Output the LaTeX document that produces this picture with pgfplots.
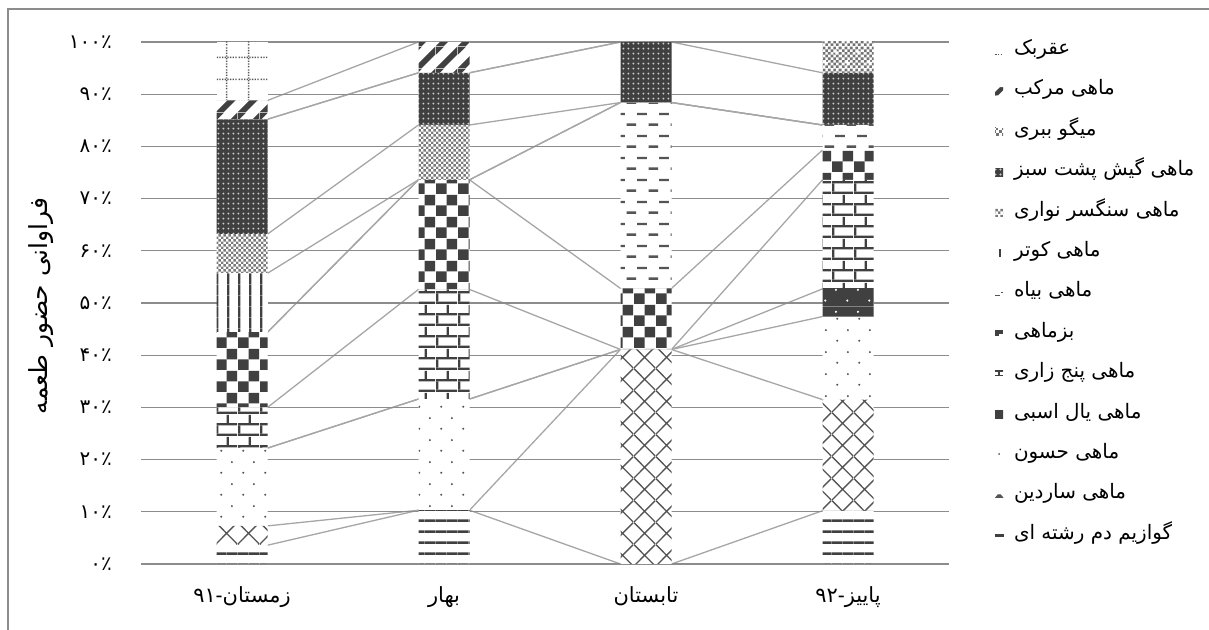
\documentclass[border=0pt]{standalone}
\usepackage{fontspec}
\setmainfont{Liberation Sans}
\newfontfamily\arabicfont[Script=Arabic]{DejaVu Sans}
\usepackage{pgfplots}
\usepackage{pgfplotstable}
\pgfplotsset{compat=1.18}
\usetikzlibrary{patterns.meta}
\TeXXeTstate=1
\definecolor{pdark}{HTML}{404040}
\definecolor{pmid}{HTML}{555555}
\definecolor{pfine}{HTML}{7A7A7A}
\definecolor{gridc}{HTML}{8C8C8C}
\definecolor{serc}{HTML}{A6A6A6}

% ---------- patterns (1bp = 1px) ----------
\tikzdeclarepattern{name=pHL, type=uncolored, bottom left={(0bp,0bp)}, top right={(10.8bp,10.8bp)}, tile size={(10.8bp,10.8bp)},
  code={\tikzset{x=1bp,y=1bp}\fill (0,0) rectangle (10.8,2.7);}}
\tikzdeclarepattern{name=pCross, type=uncolored, bottom left={(0bp,0bp)}, top right={(21.6bp,21.6bp)}, tile size={(21.6bp,21.6bp)},
  code={\tikzset{x=1bp,y=1bp}\draw[line width=1.4bp] (0,0)--(21.6,21.6) (0,21.6)--(21.6,0);}}
\tikzdeclarepattern{name=pDots, type=uncolored, bottom left={(0bp,0bp)}, top right={(21.6bp,21.6bp)}, tile size={(21.6bp,21.6bp)},
  code={\tikzset{x=1bp,y=1bp}\fill (5.4,5.4) circle (1.15); \fill (16.2,16.2) circle (1.15);}}
\tikzdeclarepattern{name=pMane, type=colored, bottom left={(0bp,0bp)}, top right={(21.6bp,21.6bp)}, tile size={(21.6bp,21.6bp)},
  code={\tikzset{x=1bp,y=1bp}\fill[pdark] (0,0) rectangle (21.6,21.6); \fill[white] (5.4,5.4) circle (1.2); \fill[white] (16.2,16.2) circle (1.2);}}
\tikzdeclarepattern{name=pBrick, type=uncolored, bottom left={(0bp,0bp)}, top right={(21.6bp,21.6bp)}, tile size={(21.6bp,21.6bp)},
  code={\tikzset{x=1bp,y=1bp}\fill (0,0) rectangle (21.6,2.4); \fill (0,10.8) rectangle (21.6,13.2); \fill (0,2.4) rectangle (2.4,10.8); \fill (10.8,13.2) rectangle (13.2,21.6);}}
\tikzdeclarepattern{name=pCheck, type=uncolored, bottom left={(0bp,0bp)}, top right={(21.6bp,21.6bp)}, tile size={(21.6bp,21.6bp)},
  code={\tikzset{x=1bp,y=1bp}\fill (0,0) rectangle (10.8,10.8); \fill (10.8,10.8) rectangle (21.6,21.6);}}
\tikzdeclarepattern{name=pDash, type=uncolored, bottom left={(0bp,0bp)}, top right={(21.6bp,21.6bp)}, tile size={(21.6bp,21.6bp)},
  code={\tikzset{x=1bp,y=1bp}\fill (0.6,4.2) rectangle (10.4,6.6); \fill (11.4,15.0) rectangle (21.2,17.4);}}
\tikzdeclarepattern{name=pVL, type=uncolored, bottom left={(0bp,0bp)}, top right={(10.8bp,10.8bp)}, tile size={(10.8bp,10.8bp)},
  code={\tikzset{x=1bp,y=1bp}\fill (0,0) rectangle (2.4,10.8);}}
\tikzdeclarepattern{name=pFine, type=uncolored, bottom left={(0bp,0bp)}, top right={(5.4bp,5.4bp)}, tile size={(5.4bp,5.4bp)},
  code={\tikzset{x=1bp,y=1bp}\fill (0,0) rectangle (2.7,2.7); \fill (2.7,2.7) rectangle (5.4,5.4);}}
\tikzdeclarepattern{name=pGish, type=colored, bottom left={(0bp,0bp)}, top right={(5.4bp,5.4bp)}, tile size={(5.4bp,5.4bp)},
  code={\tikzset{x=1bp,y=1bp}\fill[pdark] (0,0) rectangle (5.4,5.4); \fill[black!20] (2.7,2.7) circle (1.15);}}
\tikzdeclarepattern{name=pShrimp, type=colored, bottom left={(0bp,0bp)}, top right={(21.6bp,21.6bp)}, tile size={(21.6bp,21.6bp)},
  code={\tikzset{x=1bp,y=1bp}\fill[white] (0,0) rectangle (21.6,21.6);
    \foreach \i in {0,5.4,10.8,16.2}{\foreach \j in {0,5.4,10.8,16.2}{\fill[black!55] (\i,\j) rectangle +(2.7,2.7); \fill[black!55] (\i+2.7,\j+2.7) rectangle +(2.7,2.7);}}
    \fill[white] (4.7,2.7) rectangle (6.1,8.1); \fill[white] (2.7,4.7) rectangle (8.1,6.1);
    \fill[white] (15.5,13.5) rectangle (16.9,18.9); \fill[white] (13.5,15.5) rectangle (18.9,16.9);}}
\tikzdeclarepattern{name=pSquid, type=uncolored, bottom left={(0bp,0bp)}, top right={(21.6bp,21.6bp)}, tile size={(21.6bp,21.6bp)},
  code={\tikzset{x=1bp,y=1bp}\fill (0,0) -- (8.1,0) -- (21.6,13.5) -- (21.6,21.6) -- cycle; \fill (0,13.5) -- (8.1,21.6) -- (0,21.6) -- cycle;}}
\tikzdeclarepattern{name=pScorp, type=uncolored, bottom left={(0bp,0bp)}, top right={(21.6bp,21.6bp)}, tile size={(21.6bp,21.6bp)},
  code={\tikzset{x=1bp,y=1bp}\foreach \i in {0,2.7,5.4,8.1,10.8,13.5,16.2,18.9}{\fill (\i+0.7,10.1) rectangle +(1.35,1.35); \fill (10.1,\i+0.7) rectangle +(1.35,1.35);}}}

% ---------- data ----------
\pgfplotstableread{
x   s1   s2   s3   s4  s5   s6   s7   s8   s9   s10  s11 s12 s13
0   3.6  3.7  14.9 0   7.8  14.4 0    11.3 7.5  22.0 0   3.6 11.2
1   10.3 0    21.3 0   21.0 21.0 0    0    10.5 10.0 0   5.9 0
2   0    41.1 0    0   0    11.7 35.6 0    0    11.6 0   0   0
3   10.2 21.3 15.9 5.3 20.9 5.7  4.8  0    0    10.0 5.9 0   0
}\barsdata

% cumulative tops of each series, at the bar edges (for the series lines)
\pgfplotstableread{
x      c1   c2   c3   c4   c5   c6   c7   c8   c9   c10   c11   c12
0.1264 3.6  7.3  22.2 22.2 30.0 44.4 44.4 55.7 63.2 85.2  85.2  88.8
0.8736 10.3 10.3 31.6 31.6 52.6 73.6 73.6 73.6 84.1 94.1  94.1  100
1.1264 10.3 10.3 31.6 31.6 52.6 73.6 73.6 73.6 84.1 94.1  94.1  100
1.8736 0    41.1 41.1 41.1 41.1 52.8 88.4 88.4 88.4 100   100   100
2.1264 0    41.1 41.1 41.1 41.1 52.8 88.4 88.4 88.4 100   100   100
2.8736 10.2 31.5 47.4 52.7 73.6 79.3 84.1 84.1 84.1 94.1  100   100
}\topsdata

\begin{document}
\begin{tikzpicture}
\useasboundingbox (0,0) rectangle (1209bp,630bp);
\draw[gridc, line width=1.5bp] (8bp,-20bp) -- (8bp,621bp) -- (1230bp,621bp);
\coordinate (A) at (141bp,66bp);

\begin{axis}[at={(A)}, anchor=south west, scale only axis, width=808bp, height=522bp,
  xmin=-0.5, xmax=3.5, ymin=0, ymax=100,
  axis line style={draw=none}, major tick length=0pt,
  axis on top,
  ytick={0,10,...,100},
  yticklabels={۰٪,۱۰٪,۲۰٪,۳۰٪,۴۰٪,۵۰٪,۶۰٪,۷۰٪,۸۰٪,۹۰٪,۱۰۰٪},
  yticklabel style={font=\arabicfont\fontsize{20}{22}\selectfont, anchor=east, inner sep=0pt, xshift=-29bp},
  xtick={0,1,2,3},
  xticklabels={{\hbox{۹۱}\hbox{\rmfamily -}\hbox{زمستان}},بهار,تابستان,{\hbox{۹۲}\hbox{\rmfamily -}\hbox{پاییز}}},
  xticklabel style={font=\arabicfont\fontsize{21}{24}\selectfont, anchor=north, inner sep=0pt, yshift=-22bp},
  ymajorgrids, grid style={gridc, line width=1.3bp},
  clip=false]
\foreach \c in {c1,c2,c3,c4,c5,c6,c7,c8,c9,c10,c11,c12}{
  \addplot[serc, line width=1.3bp, mark=none] table[x=x, y=\c] {\topsdata};
}
\end{axis}

\begin{axis}[at={(A)}, anchor=south west, scale only axis, width=808bp, height=522bp,
  xmin=-0.5, xmax=3.5, ymin=0, ymax=100, hide axis,
  ybar stacked, bar width=51bp,
  legend image code/.code={\path[#1] (0bp,-4bp) rectangle (8bp,4bp);},
  reverse legend, legend cell align=left,
  legend style={draw=none, fill=none, at={(1,1)}, anchor=north west, xshift=46bp, yshift=-1.5bp,
    inner sep=0pt, outer sep=0pt, row sep=25.4bp,
    font=\arabicfont\fontsize{20}{22}\selectfont,
    nodes={inner sep=0pt, text height=11bp, text depth=4bp},
    /tikz/every odd column/.style={column sep=10bp}}]
\addplot[fill=white, draw=none, postaction={pattern=pHL, pattern color=pdark},
  legend image code/.code={\fill[pdark] (0bp,-1.4bp) rectangle (9bp,1.4bp);}] table[x=x, y=s1] {\barsdata};
\addlegendentry{\beginR گوازیم دم رشته ای\endR}
\addplot[fill=white, draw=none, postaction={pattern=pCross, pattern color=pmid},
  legend image code/.code={\draw[pmid, line width=1bp] (0.5bp,-2.5bp) -- (3bp,0.5bp) -- (5.5bp,0.5bp) -- (8bp,-2.5bp);}] table[x=x, y=s2] {\barsdata};
\addlegendentry{\beginR ماهی ساردین\endR}
\addplot[fill=white, draw=none, postaction={pattern=pDots, pattern color=pmid},
  legend image code/.code={\fill[pmid] (4bp,1bp) circle (1bp);}] table[x=x, y=s3] {\barsdata};
\addlegendentry{\beginR ماهی حسون\endR}
\addplot[fill=white, draw=none, postaction={pattern=pMane},
  legend image code/.code={\fill[pdark] (0bp,-4bp) rectangle (8bp,4bp);}] table[x=x, y=s4] {\barsdata};
\addlegendentry{\beginR ماهی یال اسبی\endR}
\addplot[fill=white, draw=none, postaction={pattern=pBrick, pattern color=pdark},
  legend image code/.code={\fill[pdark] (0bp,2.6bp) rectangle (8bp,3.8bp); \fill[pdark] (0bp,-2bp) rectangle (8bp,-0.8bp); \fill[pdark] (3.4bp,-0.8bp) rectangle (4.6bp,2.6bp);}] table[x=x, y=s5] {\barsdata};
\addlegendentry{\beginR ماهی پنج زاری\endR}
\addplot[fill=white, draw=none, postaction={pattern=pCheck, pattern color=pdark},
  legend image code/.code={\fill[pdark] (0bp,0bp) rectangle (8bp,4bp); \fill[pdark] (0bp,-2bp) rectangle (3.5bp,0bp);}] table[x=x, y=s6] {\barsdata};
\addlegendentry{\beginR بزماهی\endR}
\addplot[fill=white, draw=none, postaction={pattern=pDash, pattern color=pmid},
  legend image code/.code={\fill[pmid] (0bp,-3bp) rectangle (4.5bp,-1.8bp); \fill[pmid] (5.5bp,0bp) rectangle (8bp,1.2bp);}] table[x=x, y=s7] {\barsdata};
\addlegendentry{\beginR ماهی بیاه\endR}
\addplot[fill=white, draw=none, postaction={pattern=pVL, pattern color=pdark},
  legend image code/.code={\fill[pdark] (4bp,-3.5bp) rectangle (6bp,3.5bp);}] table[x=x, y=s8] {\barsdata};
\addlegendentry{\beginR ماهی کوتر\endR}
\addplot[fill=white, draw=none, postaction={pattern=pFine, pattern color=pfine}] table[x=x, y=s9] {\barsdata};
\addlegendentry{\beginR ماهی سنگسر نواری\endR}
\addplot[fill=white, draw=none, postaction={pattern=pGish}] table[x=x, y=s10] {\barsdata};
\addlegendentry{\beginR ماهی گیش پشت سبز\endR}
\addplot[fill=white, draw=none, postaction={pattern=pShrimp}] table[x=x, y=s11] {\barsdata};
\addlegendentry{\beginR میگو ببری\endR}
\addplot[fill=white, draw=none, postaction={pattern=pSquid, pattern color=pdark},
  legend image code/.code={\fill[pdark] (0bp,-4bp) -- (3bp,-4bp) -- (8bp,1bp) -- (8bp,4bp) -- (5bp,4bp) -- (0bp,-1bp) -- cycle;}] table[x=x, y=s12] {\barsdata};
\addlegendentry{\beginR ماهی مرکب\endR}
\addplot[fill=white, draw=none, postaction={pattern=pScorp, pattern color=pmid},
  legend image code/.code={\foreach \i in {0,2.7,5.4}{\fill[pmid] (\i bp+0.3bp,-4bp) rectangle +(1.3bp,1.3bp);}}] table[x=x, y=s13] {\barsdata};
\addlegendentry{\beginR عقربک\endR}
\end{axis}

\node[rotate=90, font=\arabicfont\fontsize{25}{28}\selectfont, inner sep=0pt] at (41bp,324bp) {\beginR فراوانی حضور طعمه\endR};
\end{tikzpicture}
\end{document}
